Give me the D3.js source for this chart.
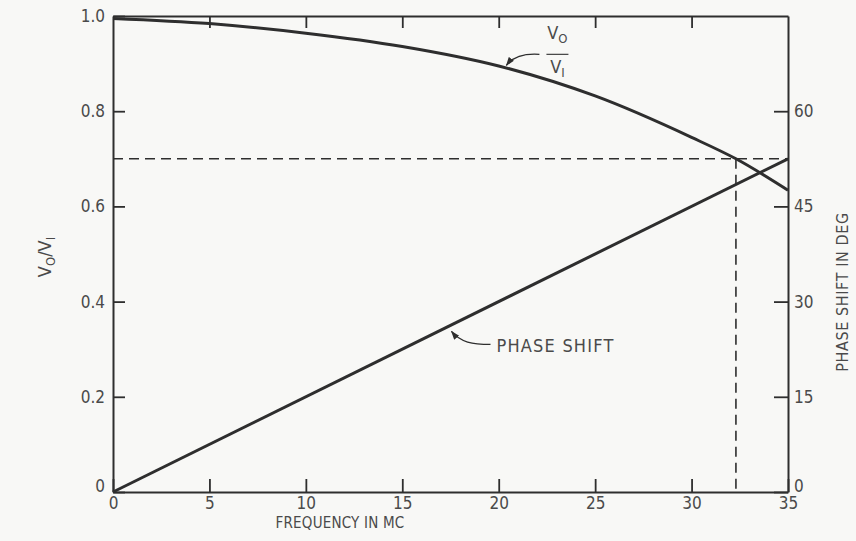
<!DOCTYPE html>
<html>
<head>
<meta charset="utf-8">
<script src="https://cdn.jsdelivr.net/npm/d3@7"></script>
<style>
  html, body { margin: 0; padding: 0; background: #f8f8f6; }
  svg { display: block; }
  .lbl { font-family: "Liberation Sans Narrow", "DejaVu Sans Condensed", "Roboto", sans-serif; fill: #4a4a4a; }
</style>
</head>
<body>
<svg id="chart" width="856" height="541"></svg>
<script>
// Frequency (MC) and the measured amplitude ratio V0/V1
const freqMC = [0, 5, 10, 15, 20, 25, 30, 32.3, 35];
const ampRatio = [0.995, 0.984, 0.964, 0.936, 0.895, 0.832, 0.745, 0.70, 0.634];

// Phase shift in degrees (linear with frequency)
const phaseFreq = [0, 35];
const phaseDeg = [0, 52.5];

// Reference levels drawn dashed
const halfPowerRatio = 0.70;
const cutoffFreq = 32.3;

// Tick values
const xTicks = [0, 5, 10, 15, 20, 25, 30, 35];
const topTicks = [5, 10, 15, 20, 25, 30];
const yTicks = [0, 0.2, 0.4, 0.6, 0.8, 1.0];
const degTicks = [0, 15, 30, 45, 60];

const svg = d3.select("#chart");
const ink = "#2e2e2e";
const fs = 17;

const x = d3.scaleLinear().domain([0, 35]).range([113, 788]);
const y = d3.scaleLinear().domain([0, 1]).range([492, 16]);
const yDeg = d3.scaleLinear().domain([0, 75]).range([492, 16]);

// Axes
function styleAxis(g) {
  g.selectAll("path.domain").attr("stroke", ink).attr("stroke-width", 2);
  g.selectAll(".tick line").attr("stroke", ink).attr("stroke-width", 1.8);
  g.selectAll(".tick text").attr("class", "lbl").attr("font-size", fs).attr("fill", "#4a4a4a");
}

const gBottom = svg.append("g").attr("transform", `translate(0,${y(0)})`)
  .call(d3.axisBottom(x).tickValues(xTicks).tickSizeInner(-13).tickSizeOuter(0).tickPadding(5).tickFormat(d3.format("d")));
styleAxis(gBottom);

const gTop = svg.append("g").attr("transform", `translate(0,${y(1)})`)
  .call(d3.axisTop(x).tickValues(topTicks).tickSizeInner(-12).tickSizeOuter(0).tickFormat(""));
styleAxis(gTop);

const gLeft = svg.append("g").attr("transform", `translate(${x(0)},0)`)
  .call(d3.axisLeft(y).tickValues(yTicks).tickSizeInner(-12).tickSizeOuter(0).tickPadding(8)
    .tickFormat(d => d === 0 ? "0" : d3.format(".1f")(d)));
styleAxis(gLeft);
gLeft.selectAll(".tick text").attr("dy", d => d === 0 ? "-0.05em" : "0.32em");

const gRight = svg.append("g").attr("transform", `translate(${x(35)},0)`)
  .call(d3.axisRight(yDeg).tickValues(degTicks).tickSizeInner(-14).tickSizeOuter(0).tickPadding(6).tickFormat(d3.format("d")));
styleAxis(gRight);
gRight.selectAll(".tick text").attr("dy", d => d === 0 ? "-0.05em" : "0.32em");

// Dashed reference lines
svg.append("line")
  .attr("x1", x(0)).attr("x2", x(35))
  .attr("y1", y(halfPowerRatio)).attr("y2", y(halfPowerRatio))
  .attr("stroke", ink).attr("stroke-width", 1.6).attr("stroke-dasharray", "10,6");
svg.append("line")
  .attr("x1", x(cutoffFreq)).attr("x2", x(cutoffFreq))
  .attr("y1", y(halfPowerRatio)).attr("y2", y(0))
  .attr("stroke", ink).attr("stroke-width", 1.6).attr("stroke-dasharray", "10,6");

// Amplitude ratio curve
const ampLine = d3.line().x(d => x(d[0])).y(d => y(d[1])).curve(d3.curveMonotoneX);
svg.append("path")
  .datum(freqMC.map((f, i) => [f, ampRatio[i]]))
  .attr("d", ampLine)
  .attr("fill", "none").attr("stroke", ink).attr("stroke-width", 3);

// Phase shift line
const phaseLine = d3.line().x(d => x(d[0])).y(d => yDeg(d[1]));
svg.append("path")
  .datum(phaseFreq.map((f, i) => [f, phaseDeg[i]]))
  .attr("d", phaseLine)
  .attr("fill", "none").attr("stroke", ink).attr("stroke-width", 3);

// Arrowhead for the curve callouts
svg.append("defs").append("marker")
  .attr("id", "tip").attr("viewBox", "0 0 10 10").attr("refX", 9).attr("refY", 5)
  .attr("markerWidth", 7).attr("markerHeight", 7).attr("orient", "auto-start-reverse")
  .append("path").attr("d", "M0,1.5 L10,5 L0,8.5 Z").attr("fill", ink);

// V0/V1 callout
const ampAt = f => d3.scaleLinear().domain(freqMC).range(ampRatio)(f);
const vTipF = 20.4;
const vTx = x(vTipF), vTy = y(ampAt(vTipF)) - 3;
svg.append("path")
  .attr("d", `M${vTx + 33},${vTy - 11} C${vTx + 18},${vTy - 12} ${vTx + 6},${vTy - 8} ${vTx},${vTy}`)
  .attr("fill", "none").attr("stroke", ink).attr("stroke-width", 1.3).attr("marker-end", "url(#tip)");
const fx = vTx + 51;
const numT = svg.append("text").attr("class", "lbl").attr("font-size", 18)
  .attr("x", fx).attr("y", vTy - 26).attr("text-anchor", "middle");
numT.append("tspan").text("V");
numT.append("tspan").attr("font-size", 13).attr("dy", 4).text("O");
svg.append("line").attr("x1", fx - 11).attr("x2", fx + 11)
  .attr("y1", vTy - 11).attr("y2", vTy - 11).attr("stroke", "#4a4a4a").attr("stroke-width", 1.3);
const denT = svg.append("text").attr("class", "lbl").attr("font-size", 18)
  .attr("x", fx).attr("y", vTy + 8).attr("text-anchor", "middle");
denT.append("tspan").text("V");
denT.append("tspan").attr("font-size", 13).attr("dy", 4).text("I");

// Phase shift callout
const pTipF = 17.5;
const pTx = x(pTipF), pTy = yDeg(pTipF * 52.5 / 35) + 5;
svg.append("path")
  .attr("d", `M${pTx + 40},${pTy + 14} C${pTx + 22},${pTy + 14} ${pTx + 10},${pTy + 12} ${pTx + 1},${pTy + 1}`)
  .attr("fill", "none").attr("stroke", ink).attr("stroke-width", 1.3).attr("marker-end", "url(#tip)");
svg.append("text").attr("class", "lbl").attr("font-size", 18)
  .attr("x", pTx + 46).attr("y", pTy + 22).attr("letter-spacing", 1.2).text("PHASE SHIFT");

// Axis titles
svg.append("text").attr("class", "lbl").attr("font-size", 15)
  .attr("x", 340).attr("y", 528).attr("text-anchor", "middle").attr("letter-spacing", 0.2)
  .text("FREQUENCY IN MC");

const yt = svg.append("text").attr("class", "lbl").attr("font-size", 18)
  .attr("transform", `translate(51,257) rotate(-90)`).attr("text-anchor", "middle");
yt.append("tspan").text("V");
yt.append("tspan").attr("font-size", 13).attr("dy", 4).text("O");
yt.append("tspan").attr("dy", -4).text("/V");
yt.append("tspan").attr("font-size", 13).attr("dy", 4).text("I");

svg.append("text").attr("class", "lbl").attr("font-size", 16)
  .attr("transform", `translate(848,292) rotate(-90)`).attr("text-anchor", "middle").attr("letter-spacing", 0.6)
  .text("PHASE SHIFT IN DEG");
</script>
</body>
</html>
